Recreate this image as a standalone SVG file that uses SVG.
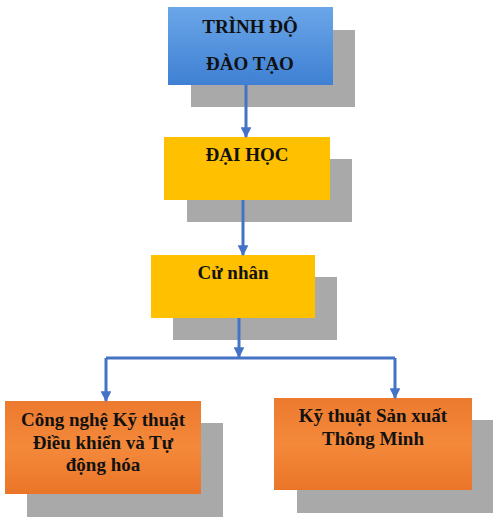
<svg xmlns="http://www.w3.org/2000/svg" width="500" height="531" viewBox="0 0 500 531">
<defs>
<linearGradient id="gBlue" x1="0" y1="0" x2="0" y2="1">
<stop offset="0" stop-color="#6aa6e8"/>
<stop offset="1" stop-color="#3f80d3"/>
</linearGradient>
<linearGradient id="gOrange" x1="0" y1="0" x2="0" y2="1">
<stop offset="0" stop-color="#ec7a2f"/>
<stop offset="0.5" stop-color="#f4893a"/>
<stop offset="1" stop-color="#ea7529"/>
</linearGradient>
<marker id="arr" viewBox="0 0 10 10" refX="9" refY="5" markerWidth="3.6" markerHeight="3.6" orient="auto" markerUnits="strokeWidth">
<path d="M0,0 L10,5 L0,10 z" fill="#4472c4"/>
</marker>
</defs>
<style>
.sh{fill:#a9a9a9}
.yel{fill:#ffc000}
.t{font-family:"Liberation Serif","Times New Roman",serif;font-weight:bold;font-size:19px;fill:#111;text-anchor:middle}
.c{fill:none;stroke:#4472c4;stroke-width:3}
</style>
<rect width="500" height="531" fill="#ffffff"/>
<g id="n1">
<rect class="sh" x="191" y="30" width="164" height="77"/>
<rect x="168" y="7" width="165" height="78" fill="url(#gBlue)"/>
<text class="t" x="250" y="33">TRÌNH ĐỘ</text>
<text class="t" x="250" y="70">ĐÀO TẠO</text>
</g>
<g id="n2">
<rect class="sh" x="187" y="159" width="165" height="63"/>
<rect class="yel" x="164" y="137" width="166" height="63"/>
<text class="t" x="247" y="161">ĐẠI HỌC</text>
</g>
<g id="n3">
<rect class="sh" x="173" y="277" width="164" height="63"/>
<rect class="yel" x="151" y="255" width="164" height="63"/>
<text class="t" x="233" y="279">Cử nhân</text>
</g>
<g id="n4">
<rect class="sh" x="27" y="423" width="196" height="94"/>
<rect x="5" y="401" width="196" height="93" fill="url(#gOrange)"/>
<text class="t" x="103" y="426">Công nghệ Kỹ thuật</text>
<text class="t" x="103" y="449">Điều khiển và Tự</text>
<text class="t" x="103" y="471">động hóa</text>
</g>
<g id="n5">
<rect class="sh" x="297" y="420" width="196" height="93"/>
<rect x="274" y="398" width="198" height="92" fill="url(#gOrange)"/>
<text class="t" x="373" y="422">Kỹ thuật Sản xuất</text>
<text class="t" x="373" y="445">Thông Minh</text>
</g>
<g id="connectors">
<path class="c" d="M246,85 L246,137" marker-end="url(#arr)"/>
<path class="c" d="M243,200 L243,255" marker-end="url(#arr)"/>
<path class="c" d="M239,318 L239,357" marker-end="url(#arr)"/>
<path class="c" d="M106,358 L395,358"/>
<path class="c" d="M106,358 L106,401" marker-end="url(#arr)"/>
<path class="c" d="M395,358 L395,398" marker-end="url(#arr)"/>
</g>
</svg>
